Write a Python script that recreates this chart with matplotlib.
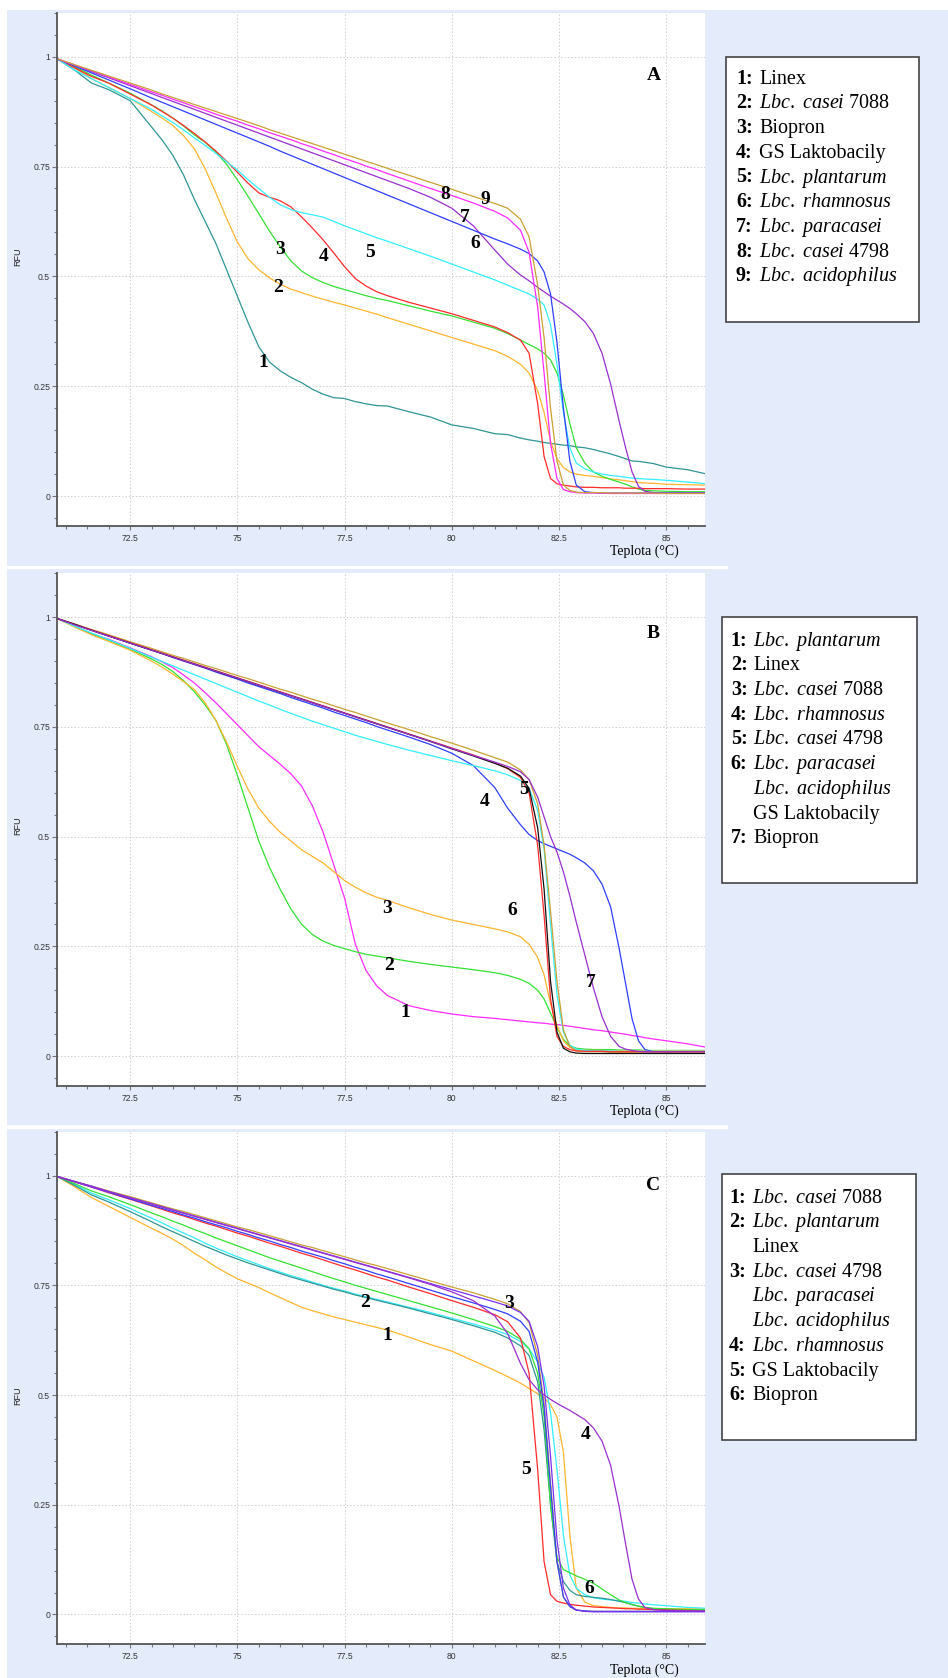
import matplotlib
matplotlib.use("Agg")
import matplotlib.pyplot as plt
from matplotlib.patches import Rectangle
from matplotlib.ticker import FixedLocator, MultipleLocator

plt.rcParams["mathtext.fontset"] = "custom"
plt.rcParams["mathtext.rm"] = "Liberation Serif"
plt.rcParams["mathtext.it"] = "Liberation Serif:italic"
plt.rcParams["mathtext.bf"] = "Liberation Serif:bold"

W, H = 948, 1678

# Temperature grid (degC) shared by every melting curve
temp = [70.8, 71.2, 71.6, 72.0, 72.5, 73.0, 73.25, 73.5, 73.75, 74.0,
        74.25, 74.5, 74.75, 75.0, 75.25, 75.5, 75.75, 76.0, 76.25, 76.5,
        76.75, 77.0, 77.25, 77.5, 77.75, 78.0, 78.25, 78.5, 79.0, 79.5,
        80.0, 80.5, 81.0, 81.3, 81.6, 81.8, 82.0, 82.15, 82.3, 82.45,
        82.6, 82.75, 82.9, 83.1, 83.3, 83.5, 83.7, 83.9, 84.05, 84.2,
        84.35, 84.5, 84.7, 85.0, 85.5, 85.95]

# ---- Panel A (RFU) ----
a_linex = [.995, .970, .940, .925, .900, .840, .810, .775, .730, .675,
           .625, .575, .515, .455, .395, .340, .305, .285, .270, .258,
           .243, .232, .224, .222, .215, .210, .206, .205, .192, .180,
           .162, .154, .142, .140, .132, .128, .125, .122, .120, .118,
           .116, .115, .112, .110, .106, .101, .096, .090, .085, .080,
           .079, .077, .074, .066, .060, .050]
a_casei7088 = [.995, .975, .950, .930, .905, .875, .860, .843, .820, .790,
               .745, .690, .632, .578, .540, .515, .497, .482, .471, .463,
               .455, .448, .441, .435, .428, .421, .414, .406, .391, .376,
               .361, .346, .331, .318, .300, .280, .240, .190, .125, .085,
               .065, .055, .050, .047, .045, .042, .039, .037, .035, .033,
               .031, .030, .029, .027, .026, .025]
a_biopron = [.995, .978, .958, .940, .917, .890, .876, .860, .842, .822,
             .805, .783, .755, .720, .682, .643, .603, .567, .535, .512,
             .497, .486, .477, .470, .463, .456, .450, .445, .433, .421,
             .410, .396, .382, .370, .355, .345, .335, .325, .310, .280,
             .230, .165, .110, .075, .055, .045, .038, .032, .027, .021,
             .016, .013, .012, .011, .010, .010]
a_gs = [.995, .975, .955, .940, .915, .890, .875, .860, .843, .825,
        .806, .785, .762, .737, .712, .690, .680, .672, .658, .635,
        .610, .583, .553, .522, .495, .478, .465, .456, .441, .428,
        .415, .400, .385, .372, .355, .325, .210, .090, .040, .028,
        .025, .023, .021, .020, .020, .019, .019, .019, .018, .018,
        .018, .017, .017, .017, .016, .016]
a_plantarum = [.995, .970, .950, .930, .905, .880, .865, .850, .833, .815,
               .798, .780, .761, .742, .720, .700, .680, .663, .652, .645,
               .640, .635, .625, .615, .606, .597, .588, .580, .563, .546,
               .528, .510, .492, .480, .468, .460, .448, .435, .390, .300,
               .190, .110, .075, .062, .055, .050, .047, .045, .043, .041,
               .040, .039, .038, .036, .032, .028]
a_rhamnosus = [.995, .981, .966, .952, .934, .916, .907, .898, .889, .880,
               .871, .862, .853, .844, .835, .826, .817, .808, .799, .790,
               .781, .772, .763, .754, .745, .736, .727, .718, .700, .680,
               .655, .615, .560, .528, .503, .490, .475, .465, .455, .446,
               .437, .427, .415, .397, .370, .325, .255, .170, .110, .055,
               .022, .011, .008, .007, .007, .007]
a_paracasei = [.995, .979, .963, .947, .927, .906, .896, .886, .876, .866,
               .856, .846, .836, .826, .816, .806, .796, .785, .775, .765,
               .755, .745, .735, .725, .715, .705, .695, .685, .665, .645,
               .625, .605, .585, .574, .562, .552, .535, .510, .460, .350,
               .200, .080, .025, .010, .008, .007, .007, .007, .007, .007,
               .007, .007, .007, .007, .007, .007]
a_casei4798 = [.995, .981, .968, .954, .937, .920, .912, .903, .895, .886,
               .878, .869, .861, .853, .844, .836, .827, .819, .811, .802,
               .794, .785, .777, .768, .760, .751, .743, .734, .717, .700,
               .684, .667, .648, .633, .605, .555, .430, .280, .120, .040,
               .015, .010, .008, .007, .007, .007, .006, .006, .006, .006,
               .006, .006, .006, .006, .006, .006]
a_acidophilus = [.995, .982, .969, .956, .940, .924, .915, .907, .899, .891,
                 .883, .875, .867, .859, .851, .843, .834, .826, .818, .810,
                 .802, .794, .786, .778, .770, .762, .754, .746, .730, .714,
                 .698, .682, .666, .655, .630, .590, .480, .360, .200, .080,
                 .025, .013, .009, .008, .008, .008, .007, .007, .007, .007,
                 .007, .007, .007, .006, .006, .006]

# ---- Panel B (RFU) ----
b_plantarum = [.997, .980, .962, .950, .930, .910, .898, .885, .868, .850,
               .828, .805, .780, .755, .730, .705, .685, .665, .643, .615,
               .570, .510, .435, .360, .255, .195, .160, .138, .115, .104,
               .096, .090, .086, .083, .080, .078, .076, .075, .073, .072,
               .070, .068, .066, .063, .060, .058, .055, .052, .050, .047,
               .045, .042, .039, .035, .028, .020]
b_linex = [.997, .980, .962, .948, .927, .905, .892, .876, .855, .830,
           .800, .765, .710, .640, .565, .490, .430, .380, .335, .300,
           .277, .262, .252, .245, .238, .232, .228, .224, .216, .209,
           .203, .197, .190, .184, .175, .166, .150, .130, .098, .065,
           .038, .024, .018, .016, .015, .015, .015, .014, .014, .014,
           .014, .013, .013, .013, .013, .013]
b_casei7088 = [.997, .978, .960, .945, .925, .900, .886, .870, .853, .835,
               .805, .765, .715, .660, .608, .565, .535, .510, .490, .470,
               .455, .440, .420, .400, .385, .372, .362, .355, .338, .323,
               .310, .300, .290, .283, .272, .255, .225, .185, .120, .070,
               .035, .020, .015, .013, .013, .013, .012, .012, .012, .012,
               .012, .012, .012, .012, .012, .012]
b_rhamnosus = [.997, .984, .971, .958, .941, .925, .917, .908, .900, .892,
               .884, .875, .867, .859, .850, .842, .834, .826, .817, .809,
               .801, .793, .784, .776, .768, .760, .751, .743, .727, .710,
               .690, .662, .612, .565, .527, .505, .491, .484, .478, .472,
               .466, .460, .452, .440, .422, .392, .340, .245, .165, .085,
               .035, .015, .010, .008, .007, .007]
b_casei4798 = [.997, .985, .972, .960, .944, .929, .921, .913, .906, .898,
               .890, .883, .875, .867, .860, .852, .844, .836, .829, .821,
               .813, .806, .798, .790, .783, .775, .767, .759, .744, .728,
               .713, .697, .680, .670, .652, .630, .575, .480, .330, .170,
               .060, .022, .012, .010, .010, .010, .009, .009, .009, .009,
               .009, .009, .009, .009, .009, .009]
b_paracasei = [.997, .984, .971, .958, .942, .926, .918, .910, .902, .894,
               .886, .878, .870, .862, .854, .846, .838, .830, .822, .814,
               .806, .798, .790, .782, .774, .766, .758, .750, .734, .718,
               .702, .686, .668, .655, .635, .600, .480, .320, .130, .045,
               .022, .015, .012, .011, .011, .011, .010, .010, .010, .010,
               .010, .010, .010, .010, .010, .010]
b_acidophilus = [.997, .984, .970, .957, .941, .925, .917, .909, .901, .893,
                 .885, .877, .869, .861, .853, .845, .837, .829, .821, .813,
                 .805, .797, .789, .781, .773, .765, .757, .749, .733, .717,
                 .700, .684, .667, .656, .638, .610, .520, .380, .170, .055,
                 .018, .010, .007, .006, .006, .006, .006, .006, .006, .006,
                 .006, .006, .006, .006, .006, .006]
b_gs = [.997, .980, .964, .949, .929, .909, .899, .889, .879, .869,
        .859, .849, .839, .829, .819, .809, .800, .790, .781, .772,
        .763, .755, .747, .739, .731, .724, .717, .710, .697, .685,
        .673, .662, .650, .641, .628, .610, .560, .470, .300, .140,
        .055, .025, .016, .013, .012, .012, .012, .011, .011, .011,
        .011, .011, .011, .011, .011, .011]
b_biopron = [.997, .983, .970, .957, .941, .925, .917, .909, .901, .893,
             .885, .877, .869, .861, .853, .845, .837, .829, .821, .813,
             .805, .797, .789, .781, .773, .765, .757, .749, .733, .717,
             .701, .685, .670, .660, .648, .630, .590, .545, .500, .465,
             .420, .365, .305, .230, .155, .090, .045, .022, .016, .013,
             .011, .010, .010, .010, .010, .010]

# ---- Panel C (RFU) ----
c_casei7088 = [.998, .975, .950, .930, .905, .880, .868, .855, .840, .823,
               .808, .792, .778, .765, .755, .745, .733, .722, .711, .700,
               .692, .685, .678, .672, .666, .660, .654, .648, .632, .615,
               .600, .578, .556, .542, .527, .515, .503, .494, .478, .450,
               .370, .180, .060, .028, .020, .018, .016, .015, .015, .014,
               .014, .014, .013, .013, .013, .013]
c_plantarum = [.998, .980, .960, .945, .925, .903, .892, .880, .869, .858,
               .846, .835, .825, .815, .806, .797, .788, .780, .772, .765,
               .757, .750, .743, .737, .730, .724, .718, .712, .700, .688,
               .675, .662, .648, .638, .622, .605, .575, .540, .460, .330,
               .180, .090, .060, .045, .038, .035, .033, .031, .030, .027,
               .026, .024, .022, .020, .016, .014]
c_linex = [.998, .978, .956, .940, .918, .895, .883, .872, .861, .850,
           .839, .829, .819, .810, .801, .793, .785, .777, .769, .762,
           .755, .748, .741, .735, .728, .722, .716, .710, .698, .685,
           .672, .658, .643, .630, .612, .590, .530, .420, .250, .120,
           .075, .055, .045, .041, .039, .037, .034, .030, .027, .023,
           .019, .016, .013, .011, .010, .010]
c_casei4798 = [.998, .987, .976, .965, .952, .938, .931, .924, .918, .911,
               .904, .897, .890, .883, .877, .870, .863, .856, .849, .842,
               .836, .829, .822, .815, .808, .801, .795, .788, .774, .760,
               .746, .733, .718, .708, .690, .665, .590, .480, .300, .120,
               .040, .018, .010, .008, .007, .007, .007, .007, .007, .007,
               .007, .007, .007, .007, .007, .007]
c_paracasei = [.998, .986, .974, .962, .947, .932, .925, .918, .910, .903,
               .895, .888, .881, .873, .866, .858, .851, .843, .836, .828,
               .821, .814, .806, .799, .791, .784, .776, .769, .754, .739,
               .724, .710, .695, .685, .668, .645, .575, .470, .290, .120,
               .040, .018, .010, .008, .007, .007, .007, .007, .007, .007,
               .007, .007, .007, .007, .007, .007]
c_acidophilus = [.998, .987, .976, .964, .950, .936, .929, .922, .915, .908,
                 .901, .894, .887, .880, .873, .866, .859, .852, .845, .838,
                 .831, .824, .817, .810, .803, .796, .789, .782, .768, .754,
                 .740, .726, .712, .703, .688, .668, .610, .520, .360, .170,
                 .060, .022, .010, .007, .006, .006, .006, .006, .006, .006,
                 .006, .006, .006, .006, .006, .006]
c_rhamnosus = [.998, .986, .975, .963, .949, .935, .928, .921, .914, .907,
               .900, .893, .886, .879, .872, .865, .858, .851, .844, .837,
               .830, .823, .816, .809, .802, .795, .788, .781, .767, .752,
               .735, .715, .680, .640, .572, .535, .512, .500, .490, .481,
               .473, .465, .456, .444, .425, .395, .340, .245, .160, .080,
               .035, .016, .011, .009, .008, .008]
c_gs = [.998, .986, .974, .961, .946, .931, .923, .915, .908, .900,
        .892, .885, .877, .869, .862, .854, .846, .839, .831, .823,
        .816, .808, .800, .792, .785, .777, .769, .762, .746, .731,
        .715, .700, .683, .667, .630, .550, .330, .120, .045, .030,
        .026, .023, .021, .019, .017, .016, .015, .014, .013, .013,
        .012, .012, .011, .010, .009, .008]
c_biopron = [.998, .982, .965, .952, .934, .915, .906, .896, .887, .877,
             .868, .858, .849, .840, .831, .822, .813, .805, .797, .789,
             .781, .773, .765, .758, .750, .743, .736, .729, .715, .701,
             .687, .672, .656, .645, .627, .605, .550, .450, .250, .130,
             .102, .095, .088, .080, .071, .058, .045, .033, .027, .022,
             .019, .016, .014, .013, .011, .011]

# Colours used by the instrument software
TEAL, ORANGE, GREEN, RED = "#2f9595", "#ffb52e", "#33e033", "#ff2a2a"
CYAN, PURPLE, BLUE, MAGENTA = "#33eeff", "#9a2fd0", "#2f3fff", "#ff2aff"
GOLD, BLACK, VIOLET = "#c9a034", "#111111", "#7a2ff0"

curves_a = [(a_linex, TEAL), (a_casei7088, ORANGE), (a_biopron, GREEN), (a_gs, RED),
            (a_plantarum, CYAN), (a_rhamnosus, PURPLE), (a_paracasei, BLUE),
            (a_casei4798, MAGENTA), (a_acidophilus, GOLD)]
curves_b = [(b_plantarum, MAGENTA), (b_linex, GREEN), (b_casei7088, ORANGE),
            (b_rhamnosus, BLUE), (b_gs, CYAN), (b_casei4798, GOLD), (b_paracasei, RED),
            (b_acidophilus, BLACK), (b_biopron, PURPLE)]
curves_c = [(c_casei7088, ORANGE), (c_plantarum, CYAN), (c_linex, TEAL),
            (c_biopron, GREEN), (c_gs, RED), (c_casei4798, GOLD), (c_paracasei, BLUE),
            (c_acidophilus, VIOLET), (c_rhamnosus, PURPLE)]

# Curve number labels (temperature, RFU)
labels_a = [("1", 75.6, 0.303), ("2", 75.95, 0.474), ("3", 76.0, 0.562), ("4", 77.0, 0.545),
            ("5", 78.1, 0.554), ("6", 80.55, 0.574), ("7", 80.3, 0.634), ("8", 79.84, 0.686),
            ("9", 80.79, 0.676)]
labels_b = [("1", 78.91, 0.10), ("2", 78.54, 0.206), ("3", 78.49, 0.337), ("4", 80.76, 0.58),
            ("5", 81.69, 0.607), ("6", 81.41, 0.331), ("7", 83.24, 0.167)]
labels_c = [("1", 78.49, 0.635), ("2", 77.97, 0.711), ("3", 81.34, 0.709), ("4", 83.11, 0.411),
            ("5", 81.74, 0.33), ("6", 83.21, 0.06)]

# Legend text
IT = r"$\mathit{%s}$"
legend_a = [("1:", "Linex"), ("2:", IT % r"Lbc.\ casei" + " 7088"), ("3:", "Biopron"),
            ("4:", "GS Laktobacily"), ("5:", IT % r"Lbc.\ plantarum"),
            ("6:", IT % r"Lbc.\ rhamnosus"), ("7:", IT % r"Lbc.\ paracasei"),
            ("8:", IT % r"Lbc.\ casei" + " 4798"), ("9:", IT % r"Lbc.\ acidophilus")]
legend_b = [("1:", IT % r"Lbc.\ plantarum"), ("2:", "Linex"), ("3:", IT % r"Lbc.\ casei" + " 7088"),
            ("4:", IT % r"Lbc.\ rhamnosus"), ("5:", IT % r"Lbc.\ casei" + " 4798"),
            ("6:", IT % r"Lbc.\ paracasei"), ("", IT % r"Lbc.\ acidophilus"),
            ("", "GS Laktobacily"), ("7:", "Biopron")]
legend_c = [("1:", IT % r"Lbc.\ casei" + " 7088"), ("2:", IT % r"Lbc.\ plantarum"), ("", "Linex"),
            ("3:", IT % r"Lbc.\ casei" + " 4798"), ("", IT % r"Lbc.\ paracasei"),
            ("", IT % r"Lbc.\ acidophilus"), ("4:", IT % r"Lbc.\ rhamnosus"),
            ("5:", "GS Laktobacily"), ("6:", "Biopron")]

fig = plt.figure(figsize=(W / 100, H / 100), dpi=100, facecolor="white")


def fx(x):
    return x / W


def fy(y):
    return 1 - y / H


# light blue page background with thin white gaps between the panels
BG = "#e4ebfa"
fig.patches.append(Rectangle((fx(6.7), 0), 1 - fx(6.7), fy(10), transform=fig.transFigure,
                             fc=BG, ec="none", zorder=-10))
for g0, g1 in [(565.7, 569.3), (1125, 1129)]:
    fig.patches.append(Rectangle((fx(6.7), fy(g1)), fx(728 - 6.7), (g1 - g0) / H,
                                 transform=fig.transFigure, fc="white", ec="none", zorder=-9))

panels = [
    # top, bottom, curves, labels, letter, letter y, legend, legend box, num x, name x,
    # first legend line, RFU label y, Teplota label y  (pixel positions)
    (12.7, 526.0, curves_a, labels_a, "A", 0.957, legend_a, (726, 57, 919, 322), 736, 759, 77, 257, 551),
    (573.3, 1086.0, curves_b, labels_b, "B", 0.963, legend_b, (722, 617, 917, 883), 730.7, 753, 639, 826, 1111),
    (1131.7, 1644.3, curves_c, labels_c, "C", 0.977, legend_c, (722, 1174, 916, 1440), 729, 752, 1196, 1396, 1670),
]

for top, bottom, curves, labels, letter, letter_y, legend, box, num_x, name_x, line0, rfu_y, tep_y in panels:
    ax = fig.add_axes([fx(56.7), fy(bottom), fx(705 - 56.7), (bottom - top) / H])
    ax.set_facecolor("white")
    ax.set_xlim(70.79, 85.9)
    ax.set_ylim(-0.068, 1.1)

    for vals, col in curves:
        ax.plot(temp, vals, color=col, lw=0.9)

    for s, x, y in labels:
        ax.text(x, y, s, family="Liberation Serif", fontweight="bold", fontsize=14,
                ha="center", va="center")
    ax.text(84.7, letter_y, letter, family="Liberation Serif", fontweight="bold", fontsize=14,
            ha="center", va="center")

    ax.xaxis.set_major_locator(FixedLocator([72.5, 75, 77.5, 80, 82.5, 85]))
    ax.set_xticklabels(["72.5", "75", "77.5", "80", "82.5", "85"])
    ax.xaxis.set_minor_locator(MultipleLocator(0.5))
    ax.yaxis.set_major_locator(FixedLocator([0, 0.25, 0.5, 0.75, 1]))
    ax.set_yticklabels(["0", "0.25", "0.5", "0.75", "1"])
    ax.yaxis.set_minor_locator(MultipleLocator(0.05))
    ax.grid(True, which="major", color="#cfcfcf", lw=0.7, ls=(0, (1.5, 2)))
    for side in ["top", "right"]:
        ax.spines[side].set_visible(False)
    for side in ["left", "bottom"]:
        ax.spines[side].set_color("#555555")
        ax.spines[side].set_linewidth(1.3)
    ax.tick_params(axis="y", which="major", length=3.6, width=0.8, color="#777777", pad=1.2)
    ax.tick_params(axis="y", which="minor", length=2.0, width=0.8, color="#777777")
    ax.tick_params(axis="x", which="major", length=2.9, width=0.8, color="#777777", pad=3)
    ax.tick_params(axis="x", which="minor", length=2.0, width=0.8, color="#777777")
    for lab in ax.get_xticklabels() + ax.get_yticklabels():
        lab.set_family("Liberation Sans")
        lab.set_fontsize(6.2)
        lab.set_color("#333333")

    fig.text(fx(18), fy(rfu_y), "RFU", rotation=90, ha="center", va="center",
             family="Liberation Sans", fontsize=6.5, color="#222222")
    fig.text(fx(644), fy(tep_y), "Teplota (°C)", ha="center", va="center",
             family="Liberation Serif", fontsize=10)

    # legend box
    x0, y0, x1, y1 = box
    fig.patches.append(Rectangle((fx(x0), fy(y1)), fx(x1 - x0), (y1 - y0) / H,
                                 transform=fig.transFigure, fc="white", ec="#444444", lw=1.2))
    for i, (num, name) in enumerate(legend):
        yb = line0 + i * 24.7 + 6.7
        if num:
            fig.text(fx(num_x), fy(yb), num, family="Liberation Serif", fontweight="bold",
                     fontsize=14.5, va="baseline", ha="left")
        fig.text(fx(name_x), fy(yb), name, family="Liberation Serif", fontsize=14.5,
                 va="baseline", ha="left")

fig.savefig("out.png", dpi=100, facecolor="white")
